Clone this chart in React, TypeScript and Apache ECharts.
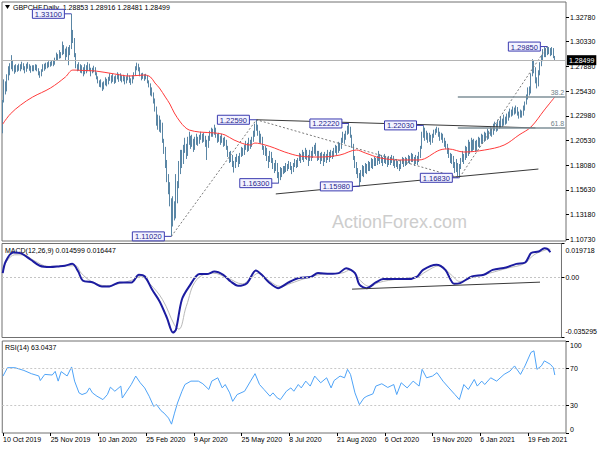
import React, { useEffect, useRef } from 'react';
import * as echarts from 'echarts';

// ---------- axis / tick data ----------
const SLOT_COUNT = 378; // bars + empty right-shift area
const X_TICK_STEP = 32;
const xTickLabels = ['10 Oct 2019', '25 Nov 2019', '10 Jan 2020', '25 Feb 2020', '9 Apr 2020', '25 May 2020', '8 Jul 2020', '21 Aug 2020', '6 Oct 2020', '19 Nov 2020', '6 Jan 2021', '19 Feb 2021'];
const priceTicks = [1.1073, 1.1318, 1.1563, 1.1808, 1.2053, 1.2298, 1.2543, 1.2788, 1.3033, 1.3278];
const macdTicks = [-0.035295, 0, 0.019718];
const rsiTicks = [0, 30, 70, 100];
const rsiLevels = [70, 30];

// ---------- header values ----------
const symbolName = 'GBPCHF,Daily';
const lastOHLC = [1.28853, 1.28916, 1.28481, 1.28499];
const macdNow = [0.014599, 0.016447];
const rsiNow = 63.0437;

// ---------- daily bars ----------
const firstOpen = 1.215;
const closes = [
  1.2440, 1.2620, 1.2560, 1.2680, 1.2740, 1.2780, 1.2830, 1.2770, 1.2745, 1.2780,
  1.2760, 1.2790, 1.2770, 1.2805, 1.2780, 1.2750, 1.2790, 1.2800, 1.2770, 1.2760,
  1.2780, 1.2765, 1.2790, 1.2760, 1.2720, 1.2700, 1.2745, 1.2790, 1.2770, 1.2810,
  1.2790, 1.2820, 1.2800, 1.2830, 1.2810, 1.2860, 1.2895, 1.2870, 1.2920, 1.2890,
  1.2990, 1.2950, 1.2900, 1.2960, 1.2930, 1.2975, 1.3110, 1.3060, 1.2900, 1.2790,
  1.2760, 1.2800, 1.2740, 1.2770, 1.2720, 1.2785, 1.2750, 1.2800, 1.2760, 1.2730,
  1.2750, 1.2770, 1.2720, 1.2680, 1.2640, 1.2600, 1.2620, 1.2570, 1.2610, 1.2640,
  1.2620, 1.2660, 1.2690, 1.2650, 1.2680, 1.2640, 1.2670, 1.2700, 1.2660, 1.2690,
  1.2650, 1.2680, 1.2630, 1.2660, 1.2690, 1.2650, 1.2630, 1.2670, 1.2700, 1.2760,
  1.2800, 1.2770, 1.2710, 1.2680, 1.2700, 1.2670, 1.2690, 1.2640, 1.2600, 1.2560,
  1.2520, 1.2450, 1.2380, 1.2250, 1.2280, 1.2180, 1.2220, 1.2050, 1.1960, 1.1850,
  1.1680, 1.1600, 1.1450, 1.1250, 1.1420, 1.1300, 1.1450, 1.1620, 1.1800, 1.1900,
  1.1850, 1.1950, 1.2000, 1.1920, 1.2050, 1.2080, 1.2010, 1.2060, 1.1980, 1.2040,
  1.2070, 1.2030, 1.2080, 1.2100, 1.2060, 1.2090, 1.2050, 1.1990, 1.2070, 1.2110,
  1.2150, 1.2120, 1.2170, 1.2100, 1.2060, 1.2090, 1.2040, 1.2080, 1.2020, 1.2060,
  1.1980, 1.1920, 1.1860, 1.1900, 1.1820, 1.1790, 1.1850, 1.1880, 1.1830, 1.1900,
  1.1950, 1.1920, 1.1980, 1.2010, 1.1960, 1.2040, 1.2000, 1.2060, 1.2110, 1.2190,
  1.2180, 1.2130, 1.2050, 1.2080, 1.1980, 1.1940, 1.1970, 1.1880, 1.1850, 1.1920,
  1.1860, 1.1800, 1.1770, 1.1820, 1.1700, 1.1680, 1.1750, 1.1720, 1.1780, 1.1760,
  1.1800, 1.1770, 1.1820, 1.1790, 1.1750, 1.1810, 1.1840, 1.1800, 1.1860, 1.1900,
  1.1870, 1.1920, 1.1880, 1.1950, 1.1900, 1.1860, 1.1930, 1.1890, 1.1950, 1.1980,
  1.1930, 1.1890, 1.1920, 1.1870, 1.1900, 1.1860, 1.1910, 1.1880, 1.1920, 1.1890,
  1.1930, 1.1900, 1.1950, 1.1980, 1.1940, 1.2010, 1.1980, 1.2050, 1.2100, 1.2060,
  1.2120, 1.2180, 1.2160, 1.2100, 1.2000, 1.1880, 1.1820, 1.1750, 1.1700, 1.1680,
  1.1720, 1.1770, 1.1740, 1.1800, 1.1760, 1.1820, 1.1790, 1.1850, 1.1810, 1.1860,
  1.1830, 1.1870, 1.1900, 1.1850, 1.1880, 1.1840, 1.1890, 1.1860, 1.1820, 1.1870,
  1.1840, 1.1880, 1.1850, 1.1810, 1.1840, 1.1800, 1.1780, 1.1830, 1.1860, 1.1820,
  1.1860, 1.1830, 1.1880, 1.1850, 1.1900, 1.1870, 1.1840, 1.1880, 1.1850, 1.1900,
  1.1980, 1.2100, 1.2170, 1.2080, 1.2120, 1.2060, 1.2100, 1.2050, 1.2090, 1.2130,
  1.2150, 1.2170, 1.2120, 1.2080, 1.2110, 1.2060, 1.2030, 1.2000, 1.1950, 1.1920,
  1.1850, 1.1890, 1.1800, 1.1760, 1.1820, 1.1750, 1.1790, 1.1850, 1.1900, 1.1870,
  1.1950, 1.1920, 1.2000, 1.1960, 1.2040, 1.1990, 1.2030, 1.1970, 1.2010, 1.2060,
  1.2030, 1.2080, 1.2050, 1.2100, 1.2070, 1.2130, 1.2090, 1.2150, 1.2120, 1.2170,
  1.2200, 1.2160, 1.2230, 1.2190, 1.2250, 1.2210, 1.2270, 1.2230, 1.2280, 1.2300,
  1.2340, 1.2310, 1.2360, 1.2330, 1.2380, 1.2320, 1.2290, 1.2330, 1.2300, 1.2370,
  1.2420, 1.2480, 1.2550, 1.2530, 1.2700, 1.2820, 1.2760, 1.2650, 1.2600, 1.2720,
  1.2800, 1.2850, 1.2900, 1.2950, 1.2920, 1.2940, 1.2960, 1.2930, 1.2960, 1.2885, 1.2850,
];
const highs = [
  1.2455, 1.2660, 1.2640, 1.2710, 1.2790, 1.2820, 1.2900, 1.2850, 1.2800, 1.2810,
  1.2800, 1.2815, 1.2810, 1.2835, 1.2820, 1.2790, 1.2815, 1.2830, 1.2810, 1.2795,
  1.2800, 1.2800, 1.2810, 1.2805, 1.2770, 1.2740, 1.2760, 1.2810, 1.2815, 1.2825,
  1.2830, 1.2840, 1.2835, 1.2850, 1.2845, 1.2875, 1.2925, 1.2910, 1.2950, 1.2930,
  1.3035, 1.3000, 1.2965, 1.2985, 1.2980, 1.3000, 1.3310, 1.3150, 1.3070, 1.2920,
  1.2810, 1.2830, 1.2810, 1.2800, 1.2780, 1.2810, 1.2800, 1.2830, 1.2815, 1.2775,
  1.2775, 1.2795, 1.2780, 1.2730, 1.2690, 1.2650, 1.2660, 1.2630, 1.2640, 1.2680,
  1.2665, 1.2685, 1.2720, 1.2700, 1.2715, 1.2690, 1.2700, 1.2730, 1.2715, 1.2720,
  1.2700, 1.2705, 1.2690, 1.2690, 1.2720, 1.2700, 1.2670, 1.2700, 1.2730, 1.2790,
  1.2825, 1.2815, 1.2780, 1.2720, 1.2725, 1.2710, 1.2715, 1.2700, 1.2650, 1.2620,
  1.2580, 1.2530, 1.2470, 1.2390, 1.2310, 1.2300, 1.2260, 1.2230, 1.2070, 1.1990,
  1.1860, 1.1720, 1.1640, 1.1480, 1.1500, 1.1450, 1.1720, 1.1650, 1.1850, 1.1960,
  1.1960, 1.2010, 1.2080, 1.2020, 1.2090, 1.2140, 1.2100, 1.2110, 1.2070, 1.2090,
  1.2120, 1.2090, 1.2110, 1.2140, 1.2120, 1.2130, 1.2100, 1.2060, 1.2100, 1.2150,
  1.2180, 1.2170, 1.2210, 1.2180, 1.2120, 1.2130, 1.2100, 1.2120, 1.2080, 1.2090,
  1.2060, 1.2000, 1.1940, 1.1950, 1.1910, 1.1850, 1.1890, 1.1920, 1.1900, 1.1930,
  1.1990, 1.1980, 1.2010, 1.2050, 1.2030, 1.2080, 1.2060, 1.2090, 1.2150, 1.2220,
  1.2259, 1.2210, 1.2150, 1.2120, 1.2090, 1.2000, 1.2000, 1.1980, 1.1900, 1.1950,
  1.1940, 1.1880, 1.1830, 1.1860, 1.1830, 1.1740, 1.1790, 1.1780, 1.1800, 1.1800,
  1.1830, 1.1820, 1.1850, 1.1840, 1.1800, 1.1830, 1.1870, 1.1860, 1.1880, 1.1930,
  1.1920, 1.1960, 1.1940, 1.1980, 1.1960, 1.1910, 1.1960, 1.1950, 1.1990, 1.2010,
  1.2030, 1.1950, 1.1950, 1.1930, 1.1940, 1.1920, 1.1940, 1.1920, 1.1960, 1.1940,
  1.1960, 1.1950, 1.1980, 1.2010, 1.2000, 1.2040, 1.2030, 1.2080, 1.2140, 1.2120,
  1.2150, 1.2200, 1.2222, 1.2190, 1.2110, 1.2020, 1.1900, 1.1840, 1.1780, 1.1730,
  1.1760, 1.1810, 1.1800, 1.1830, 1.1820, 1.1850, 1.1840, 1.1880, 1.1870, 1.1890,
  1.1880, 1.1900, 1.1950, 1.1920, 1.1910, 1.1890, 1.1920, 1.1900, 1.1880, 1.1900,
  1.1890, 1.1910, 1.1900, 1.1860, 1.1870, 1.1850, 1.1820, 1.1860, 1.1890, 1.1880,
  1.1890, 1.1880, 1.1910, 1.1900, 1.1930, 1.1920, 1.1890, 1.1910, 1.1900, 1.1940,
  1.2000, 1.2140, 1.2203, 1.2180, 1.2150, 1.2130, 1.2130, 1.2110, 1.2120, 1.2160,
  1.2170, 1.2190, 1.2180, 1.2140, 1.2130, 1.2120, 1.2080, 1.2050, 1.2020, 1.1980,
  1.1930, 1.1920, 1.1900, 1.1840, 1.1870, 1.1830, 1.1820, 1.1880, 1.1950, 1.1920,
  1.2000, 1.1990, 1.2060, 1.2040, 1.2080, 1.2060, 1.2070, 1.2050, 1.2060, 1.2090,
  1.2080, 1.2120, 1.2110, 1.2140, 1.2130, 1.2170, 1.2150, 1.2190, 1.2180, 1.2220,
  1.2240, 1.2220, 1.2260, 1.2250, 1.2290, 1.2270, 1.2310, 1.2290, 1.2320, 1.2340,
  1.2370, 1.2360, 1.2390, 1.2380, 1.2400, 1.2385, 1.2340, 1.2360, 1.2350, 1.2400,
  1.2440, 1.2510, 1.2580, 1.2590, 1.2720, 1.2860, 1.2850, 1.2780, 1.2680, 1.2750,
  1.2830, 1.2900, 1.2960, 1.2980, 1.2970, 1.2985, 1.2980, 1.2970, 1.2980, 1.2970, 1.2892,
];
const lows = [
  1.2125, 1.2430, 1.2510, 1.2540, 1.2650, 1.2700, 1.2760, 1.2740, 1.2715, 1.2730,
  1.2735, 1.2745, 1.2740, 1.2760, 1.2750, 1.2720, 1.2735, 1.2765, 1.2745, 1.2725,
  1.2740, 1.2740, 1.2750, 1.2740, 1.2700, 1.2675, 1.2690, 1.2735, 1.2745, 1.2760,
  1.2770, 1.2780, 1.2785, 1.2795, 1.2790, 1.2805, 1.2850, 1.2845, 1.2865, 1.2870,
  1.2900, 1.2910, 1.2850, 1.2880, 1.2800, 1.2900, 1.2960, 1.3020, 1.2880, 1.2770,
  1.2740, 1.2745, 1.2725, 1.2720, 1.2690, 1.2710, 1.2720, 1.2740, 1.2740, 1.2690,
  1.2720, 1.2730, 1.2700, 1.2660, 1.2620, 1.2585, 1.2580, 1.2545, 1.2560, 1.2600,
  1.2590, 1.2610, 1.2645, 1.2620, 1.2635, 1.2615, 1.2625, 1.2660, 1.2635, 1.2645,
  1.2630, 1.2640, 1.2610, 1.2620, 1.2650, 1.2625, 1.2605, 1.2620, 1.2660, 1.2695,
  1.2750, 1.2740, 1.2690, 1.2650, 1.2665, 1.2645, 1.2660, 1.2620, 1.2580, 1.2500,
  1.2490, 1.2420, 1.2340, 1.2200, 1.2160, 1.2140, 1.2130, 1.2030, 1.1920, 1.1780,
  1.1640, 1.1520, 1.1400, 1.1102, 1.1200, 1.1260, 1.1280, 1.1430, 1.1580, 1.1720,
  1.1780, 1.1820, 1.1930, 1.1870, 1.1900, 1.2010, 1.1970, 1.1990, 1.1940, 1.1960,
  1.2010, 1.2000, 1.2020, 1.2060, 1.2030, 1.2040, 1.1990, 1.1860, 1.1980, 1.2050,
  1.2090, 1.2090, 1.2110, 1.2080, 1.2030, 1.2040, 1.2010, 1.2030, 1.1990, 1.2000,
  1.1960, 1.1890, 1.1830, 1.1840, 1.1790, 1.1735, 1.1780, 1.1840, 1.1790, 1.1820,
  1.1890, 1.1900, 1.1910, 1.1960, 1.1940, 1.1950, 1.1970, 1.1990, 1.2040, 1.2090,
  1.2150, 1.2100, 1.2030, 1.2020, 1.1960, 1.1910, 1.1900, 1.1850, 1.1780, 1.1840,
  1.1830, 1.1770, 1.1730, 1.1750, 1.1680, 1.1630, 1.1660, 1.1690, 1.1720, 1.1730,
  1.1740, 1.1750, 1.1770, 1.1760, 1.1720, 1.1740, 1.1790, 1.1780, 1.1790, 1.1850,
  1.1830, 1.1860, 1.1840, 1.1870, 1.1860, 1.1800, 1.1850, 1.1850, 1.1880, 1.1920,
  1.1900, 1.1850, 1.1860, 1.1820, 1.1850, 1.1800, 1.1840, 1.1830, 1.1860, 1.1840,
  1.1880, 1.1870, 1.1890, 1.1930, 1.1910, 1.1930, 1.1950, 1.1970, 1.2030, 1.2020,
  1.2060, 1.2110, 1.2120, 1.2080, 1.1980, 1.1860, 1.1780, 1.1720, 1.1680, 1.1598,
  1.1640, 1.1700, 1.1690, 1.1730, 1.1720, 1.1750, 1.1750, 1.1780, 1.1770, 1.1800,
  1.1800, 1.1810, 1.1850, 1.1820, 1.1830, 1.1800, 1.1830, 1.1820, 1.1790, 1.1810,
  1.1810, 1.1830, 1.1800, 1.1780, 1.1790, 1.1770, 1.1750, 1.1770, 1.1820, 1.1790,
  1.1800, 1.1810, 1.1830, 1.1820, 1.1840, 1.1840, 1.1800, 1.1820, 1.1810, 1.1840,
  1.1880, 1.1970, 1.2080, 1.2050, 1.2060, 1.2030, 1.2040, 1.2010, 1.2030, 1.2080,
  1.2110, 1.2130, 1.2090, 1.2050, 1.2060, 1.2030, 1.1990, 1.1970, 1.1920, 1.1880,
  1.1830, 1.1820, 1.1780, 1.1730, 1.1740, 1.1700, 1.1683, 1.1770, 1.1840, 1.1820,
  1.1860, 1.1880, 1.1900, 1.1920, 1.1940, 1.1950, 1.1960, 1.1940, 1.1950, 1.1990,
  1.1980, 1.2020, 1.2020, 1.2040, 1.2050, 1.2060, 1.2070, 1.2100, 1.2090, 1.2110,
  1.2150, 1.2140, 1.2150, 1.2170, 1.2180, 1.2190, 1.2200, 1.2210, 1.2220, 1.2250,
  1.2280, 1.2290, 1.2300, 1.2310, 1.2320, 1.2300, 1.2270, 1.2280, 1.2280, 1.2300,
  1.2350, 1.2410, 1.2460, 1.2500, 1.2520, 1.2690, 1.2720, 1.2620, 1.2570, 1.2590,
  1.2700, 1.2790, 1.2840, 1.2880, 1.2880, 1.2900, 1.2910, 1.2890, 1.2900, 1.2870, 1.2848,
];

// ---------- moving average ----------
const maBars = [0, 5, 12, 20, 32, 42, 47, 55, 62, 75, 85, 95, 99, 102, 105, 109, 112, 115, 119, 122, 125, 132, 142, 149, 155, 166, 169, 176, 182, 189, 199, 212, 226, 237, 243, 253, 266, 279, 293, 299, 309, 323, 336, 346, 354, 363, 370];
const maValues = [1.2216, 1.2315, 1.2405, 1.2484, 1.2574, 1.2683, 1.2752, 1.2747, 1.2743, 1.2713, 1.2693, 1.2703, 1.2683, 1.2624, 1.2574, 1.2484, 1.2415, 1.2326, 1.2237, 1.2187, 1.2157, 1.2137, 1.2128, 1.2108, 1.2058, 1.2008, 1.2028, 1.2008, 1.1979, 1.1939, 1.1899, 1.1889, 1.1909, 1.1959, 1.1929, 1.1880, 1.1860, 1.1860, 1.1959, 1.1969, 1.1939, 1.1959, 1.2008, 1.2108, 1.2187, 1.2356, 1.2485];

// ---------- annotations ----------
const swingBars = [46, 113, 170, 185, 232, 239, 282, 306, 365];
const swingPrices = [1.331, 1.1102, 1.2259, 1.163, 1.2222, 1.1598, 1.2203, 1.1683, 1.2985];
const zigzagBars = [113, 170, 306, 365];
const zigzagPrices = [1.1102, 1.2259, 1.1683, 1.2985];
const upperTrend = [[170, 1.2259], [357, 1.2178]];
const lowerTrend = [[183, 1.1523], [359, 1.1770]];
const fibRatios = [38.2, 61.8];
const fibLow = [305, 1.1683];
const fibHigh = [365, 1.2985];

// ---------- MACD ----------
const macdBars = [0, 2, 7, 12, 19, 25, 32, 38, 42, 47, 51, 54, 61, 67, 72, 79, 87, 92, 96, 101, 106, 111, 115, 117, 121, 126, 133, 138, 143, 149, 154, 159, 165, 171, 175, 180, 186, 193, 200, 208, 213, 221, 227, 232, 238, 241, 246, 252, 257, 265, 273, 280, 284, 293, 299, 305, 309, 317, 325, 331, 340, 347, 353, 357, 362, 366, 368, 370];
const macdValues = [0.0024, 0.0092, 0.0145, 0.0141, 0.0102, 0.0067, 0.0059, 0.0063, 0.0067, 0.0078, 0.0033, -0.0019, -0.0031, -0.0054, -0.0054, -0.0031, -0.0031, 0.0014, 0.0004, -0.0074, -0.0142, -0.0239, -0.0324, -0.0308, -0.0132, -0.0054, 0.0018, 0.0018, 0.0033, 0.0014, -0.0025, -0.0050, -0.0035, 0.0039, 0.0014, -0.0031, -0.0064, -0.0031, -0.0005, 0.0001, 0.0024, 0.0020, 0.0024, 0.0053, 0.0024, -0.0044, -0.0064, -0.0031, -0.0011, -0.0011, -0.0011, 0.0004, 0.0043, 0.0073, 0.0043, -0.0039, -0.0035, 0.0004, 0.0014, 0.0043, 0.0057, 0.0078, 0.0086, 0.0141, 0.0150, 0.0170, 0.0166, 0.0146];
const signalBars = [0, 8, 14, 21, 31, 49, 53, 60, 70, 78, 88, 93, 99, 108, 116, 119, 124, 131, 142, 152, 162, 167, 173, 179, 188, 195, 203, 216, 229, 235, 241, 248, 254, 267, 280, 286, 295, 303, 309, 316, 329, 341, 352, 359, 367, 370];
const signalValues = [0.0053, 0.0131, 0.0131, 0.0098, 0.0063, 0.0067, 0.0024, -0.0025, -0.0050, -0.0039, -0.0015, 0.0004, -0.0035, -0.0132, -0.0279, -0.0304, -0.0171, -0.0015, 0.0024, -0.0005, -0.0039, -0.0011, 0.0024, -0.0015, -0.0054, -0.0035, -0.0011, 0.0018, 0.0024, 0.0043, -0.0015, -0.0054, -0.0031, -0.0011, 0.0001, 0.0033, 0.0067, 0.0014, -0.0025, -0.0005, 0.0024, 0.0053, 0.0078, 0.0131, 0.0160, 0.0164];
const macdTrend = [[236, -0.0070], [363, -0.0029]];

// ---------- RSI ----------
const rsiBars = [0, 3, 8, 14, 19, 24, 25, 28, 33, 35, 37, 39, 43, 46, 48, 51, 53, 56, 58, 60, 63, 67, 70, 72, 75, 79, 80, 83, 86, 89, 92, 95, 98, 101, 103, 106, 108, 111, 113, 115, 117, 120, 122, 126, 131, 134, 138, 140, 144, 147, 149, 152, 154, 157, 162, 166, 169, 172, 175, 179, 181, 184, 186, 190, 193, 195, 198, 200, 203, 206, 209, 213, 217, 220, 222, 226, 229, 231, 233, 236, 239, 242, 244, 248, 250, 254, 258, 262, 264, 267, 271, 275, 279, 281, 284, 288, 291, 295, 299, 303, 306, 309, 312, 316, 318, 321, 323, 327, 331, 336, 340, 343, 347, 350, 354, 356, 358, 361, 363, 367, 369, 370];
const rsiValues = [61.9, 71, 71, 68, 64.5, 62, 57, 63.7, 63, 67, 56.4, 66.7, 62, 71.8, 56.4, 43.6, 41.8, 43.6, 49, 43.6, 40, 36.3, 41.8, 49.8, 45.4, 51, 38, 45.4, 52.7, 61.9, 54.6, 49, 40, 29, 30.8, 24.2, 21.6, 16.2, 9.6, 21.6, 32.6, 45.4, 52.7, 56.4, 56.4, 53.5, 47.3, 56.4, 60, 49, 52.7, 43.6, 34.4, 41.8, 45.4, 56.4, 64.5, 52.7, 47.3, 40, 43.6, 38, 36.3, 45.4, 49, 45.4, 52.7, 49, 56.4, 51, 61.9, 54.6, 60, 49, 57, 61.9, 60, 69.2, 63.7, 43.6, 30.8, 38, 40, 42.5, 51, 53.5, 49.5, 52.7, 41.8, 54.6, 49, 56.4, 51, 69.2, 60, 61.9, 65.6, 56.4, 49, 41.8, 36.3, 52.7, 47.3, 58.2, 51, 56.4, 52.7, 60, 56.4, 63.7, 67.4, 72.9, 63.7, 72.9, 87.6, 89.3, 69.2, 72.9, 78.4, 74.7, 71, 63.0];

const FONT = '"Liberation Sans", Arial, sans-serif';
const PRICE_MIN = 1.10561;
const PRICE_MAX = 1.34272;

function pairs(xs: number[], ys: number[]) {
  return xs.map((x, k) => [x, ys[k]]);
}

function buildOption(): any {
  const slots = Array.from({ length: SLOT_COUNT }, (_, i) => String(i));
  const lastSlot = SLOT_COUNT - 1;
  const candles = closes.map((c, i) => [i === 0 ? firstOpen : closes[i - 1], c, lows[i], highs[i]]);
  const lastPrice = lastOHLC[3];
  const fibLevels = fibRatios.map((r) => fibHigh[1] - (r / 100) * (fibHigh[1] - fibLow[1]));
  const showTick = (idx: number) => idx % X_TICK_STEP === 0 && idx / X_TICK_STEP < xTickLabels.length;
  const axisText = { fontSize: 7, color: '#000', fontFamily: FONT };
  const trendStyle = { color: '#3a3a3a', width: 1, type: 'solid' };
  const fibStyle = { color: '#7f9098', width: 1.5, type: 'solid' };

  const grids = [
    { left: 2, width: 564, top: 2, height: 239 },
    { left: 2, width: 564, top: 243.5, height: 94 },
    { left: 2, width: 564, top: 341, height: 92 },
  ].map((g) => ({ ...g, show: true, borderColor: '#707070', borderWidth: 1 }));

  const yBase = {
    type: 'value',
    position: 'right',
    splitLine: { show: false },
    axisLine: { show: false },
  };

  return {
    animation: false,
    backgroundColor: '#ffffff',
    textStyle: { fontFamily: FONT },
    grid: grids,
    xAxis: [0, 1, 2].map((gi) => ({
      type: 'category',
      gridIndex: gi,
      data: slots,
      boundaryGap: true,
      axisLine: { show: false },
      splitLine: { show: false },
      axisTick:
        gi === 2
          ? { show: true, interval: showTick, alignWithLabel: true, length: 3, lineStyle: { color: '#000' } }
          : { show: false },
      axisLabel:
        gi === 2
          ? {
              show: true,
              interval: showTick,
              formatter: (_v: string, idx: number) => xTickLabels[idx / X_TICK_STEP] ?? '',
              align: 'left',
              margin: 3,
              ...axisText,
            }
          : { show: false },
    })),
    yAxis: [
      {
        ...yBase,
        gridIndex: 0,
        min: PRICE_MIN,
        max: PRICE_MAX,
        axisTick: { show: true, length: 3, customValues: priceTicks, lineStyle: { color: '#000' } },
        axisLabel: { customValues: priceTicks, formatter: (v: number) => v.toFixed(5), margin: 4, ...axisText },
      },
      {
        ...yBase,
        gridIndex: 1,
        min: macdTicks[0],
        max: macdTicks[2],
        axisTick: { show: true, length: 3, customValues: macdTicks, lineStyle: { color: '#000' } },
        axisLabel: {
          customValues: macdTicks,
          margin: 4,
          ...axisText,
          formatter: (v: number) =>
            v > 0.001 ? `{top|${v.toFixed(6)}}` : v < -0.001 ? `{bot|${v.toFixed(6)}}` : '0.00',
          rich: {
            top: { ...axisText, padding: [13, 0, 0, 0] },
            bot: { ...axisText, padding: [0, 0, 13, 0] },
          },
        },
      },
      {
        ...yBase,
        gridIndex: 2,
        min: rsiTicks[0],
        max: rsiTicks[3],
        axisTick: { show: true, length: 3, customValues: rsiTicks, lineStyle: { color: '#000' } },
        axisLabel: {
          customValues: rsiTicks,
          margin: 4,
          ...axisText,
          formatter: (v: number) => (v >= 100 ? `{top|${v}}` : v <= 0 ? `{bot|${v}}` : String(v)),
          rich: {
            top: { ...axisText, padding: [8, 0, 0, 0] },
            bot: { ...axisText, padding: [0, 0, 8, 0] },
          },
        },
      },
    ],
    graphic: [
      { type: 'polygon', shape: { points: [[5, 5], [10, 5], [7.5, 9]] }, style: { fill: '#000' } },
      {
        type: 'text',
        x: 13,
        y: 7.5,
        style: {
          text: `${symbolName}  ${lastOHLC.map((v) => v.toFixed(5)).join(' ')}`,
          fill: '#000',
          font: `7px ${FONT}`,
          verticalAlign: 'middle',
        },
      },
      {
        type: 'text',
        x: 5,
        y: 250.5,
        style: {
          text: `MACD(12,26,9) ${macdNow[0].toFixed(6)} ${macdNow[1].toFixed(6)}`,
          fill: '#000',
          font: `7px ${FONT}`,
          verticalAlign: 'middle',
        },
      },
      {
        type: 'text',
        x: 5,
        y: 347,
        style: { text: `RSI(14) ${rsiNow.toFixed(4)}`, fill: '#000', font: `7px ${FONT}`, verticalAlign: 'middle' },
      },
      {
        type: 'text',
        x: 332,
        y: 221.5,
        z: 1,
        style: { text: 'ActionForex.com', fill: '#cdcdcd', font: `18px ${FONT}`, verticalAlign: 'middle' },
      },
    ],
    series: [
      {
        type: 'candlestick',
        xAxisIndex: 0,
        yAxisIndex: 0,
        data: candles,
        barWidth: 1.2,
        silent: true,
        itemStyle: {
          color: '#5a86a5',
          color0: '#5a86a5',
          borderColor: '#5a86a5',
          borderColor0: '#5a86a5',
          borderWidth: 1,
        },
        markLine: {
          silent: true,
          precision: 5,
          symbol: ['none', 'none'],
          label: { show: false },
          data: [
            {
              yAxis: lastPrice,
              lineStyle: { color: '#b4b4b4', width: 1, type: 'solid' },
              label: {
                show: true,
                position: 'end',
                formatter: lastPrice.toFixed(5),
                color: '#fff',
                backgroundColor: '#000',
                padding: [2, 2, 1, 2],
                fontSize: 7,
                fontFamily: FONT,
                distance: 1,
              },
            },
            [
              { coord: upperTrend[0], lineStyle: trendStyle },
              { coord: upperTrend[1], lineStyle: trendStyle },
            ],
            [
              { coord: lowerTrend[0], lineStyle: trendStyle },
              { coord: lowerTrend[1], lineStyle: trendStyle },
            ],
            ...fibLevels.map((lv, k) => [
              {
                coord: [fibLow[0], lv],
                lineStyle: fibStyle,
                label: {
                  show: true,
                  position: 'insideEndTop',
                  formatter: fibRatios[k].toFixed(1),
                  color: '#6f8088',
                  fontSize: 7,
                  fontFamily: FONT,
                  distance: 1,
                },
              },
              { coord: [lastSlot, lv], lineStyle: fibStyle },
            ]),
          ],
        },
      },
      {
        type: 'line',
        xAxisIndex: 0,
        yAxisIndex: 0,
        data: pairs(maBars, maValues),
        smooth: 0.35,
        symbol: 'none',
        silent: true,
        lineStyle: { color: '#ff3b3b', width: 1 },
      },
      {
        type: 'line',
        xAxisIndex: 0,
        yAxisIndex: 0,
        data: pairs(zigzagBars, zigzagPrices),
        symbol: 'none',
        silent: true,
        lineStyle: { color: '#7a7a7a', width: 1, type: [2, 2] },
      },
      {
        type: 'custom',
        xAxisIndex: 0,
        yAxisIndex: 0,
        data: pairs(swingBars, swingPrices),
        silent: true,
        clip: false,
        z: 10,
        renderItem: (_params: any, api: any) => {
          const pt = api.coord([api.value(0), api.value(1)]);
          const txt = Number(api.value(1)).toFixed(5);
          const w = 32;
          const h = 9;
          const gap = 7;
          return {
            type: 'group',
            children: [
              {
                type: 'line',
                shape: { x1: pt[0] - gap, y1: pt[1], x2: pt[0], y2: pt[1] },
                style: { stroke: '#3b3bb0', lineWidth: 1 },
              },
              {
                type: 'rect',
                shape: { x: pt[0] - gap - w, y: pt[1] - h / 2, width: w, height: h },
                style: { fill: '#f3f3ff', stroke: '#3b3bb0', lineWidth: 1 },
              },
              {
                type: 'text',
                x: pt[0] - gap - w / 2,
                y: pt[1] + 0.5,
                style: {
                  text: txt,
                  align: 'center',
                  verticalAlign: 'middle',
                  fill: '#24248c',
                  font: `7.5px ${FONT}`,
                },
              },
            ],
          };
        },
      },
      {
        type: 'line',
        xAxisIndex: 1,
        yAxisIndex: 1,
        data: pairs(signalBars, signalValues),
        smooth: 0.4,
        symbol: 'none',
        silent: true,
        lineStyle: { color: '#b9b9b9', width: 1 },
      },
      {
        type: 'line',
        xAxisIndex: 1,
        yAxisIndex: 1,
        data: pairs(macdBars, macdValues),
        smooth: 0.3,
        symbol: 'none',
        silent: true,
        lineStyle: { color: '#1c1ca0', width: 2 },
        markLine: {
          silent: true,
          precision: 6,
          symbol: ['none', 'none'],
          label: { show: false },
          data: [
            { yAxis: 0, lineStyle: { color: '#c4c4c4', width: 1, type: [2, 2] } },
            [
              { coord: macdTrend[0], lineStyle: trendStyle },
              { coord: macdTrend[1], lineStyle: trendStyle },
            ],
          ],
        },
      },
      {
        type: 'line',
        xAxisIndex: 2,
        yAxisIndex: 2,
        data: pairs(rsiBars, rsiValues),
        symbol: 'none',
        silent: true,
        lineStyle: { color: '#4ea3f7', width: 1 },
        markLine: {
          silent: true,
          symbol: ['none', 'none'],
          label: { show: false },
          data: rsiLevels.map((lv) => ({ yAxis: lv, lineStyle: { color: '#c8c8c8', width: 1, type: [2, 2] } })),
        },
      },
    ],
  };
}

export default function App() {
  const ref = useRef<HTMLDivElement>(null);
  useEffect(() => {
    if (!ref.current) return;
    const chart = echarts.init(ref.current, null, { renderer: 'svg' });
    chart.setOption(buildOption());
    return () => chart.dispose();
  }, []);
  return <div ref={ref} style={{ position: 'fixed', left: 0, top: 0, width: 600, height: 450, background: '#fff' }} />;
}
